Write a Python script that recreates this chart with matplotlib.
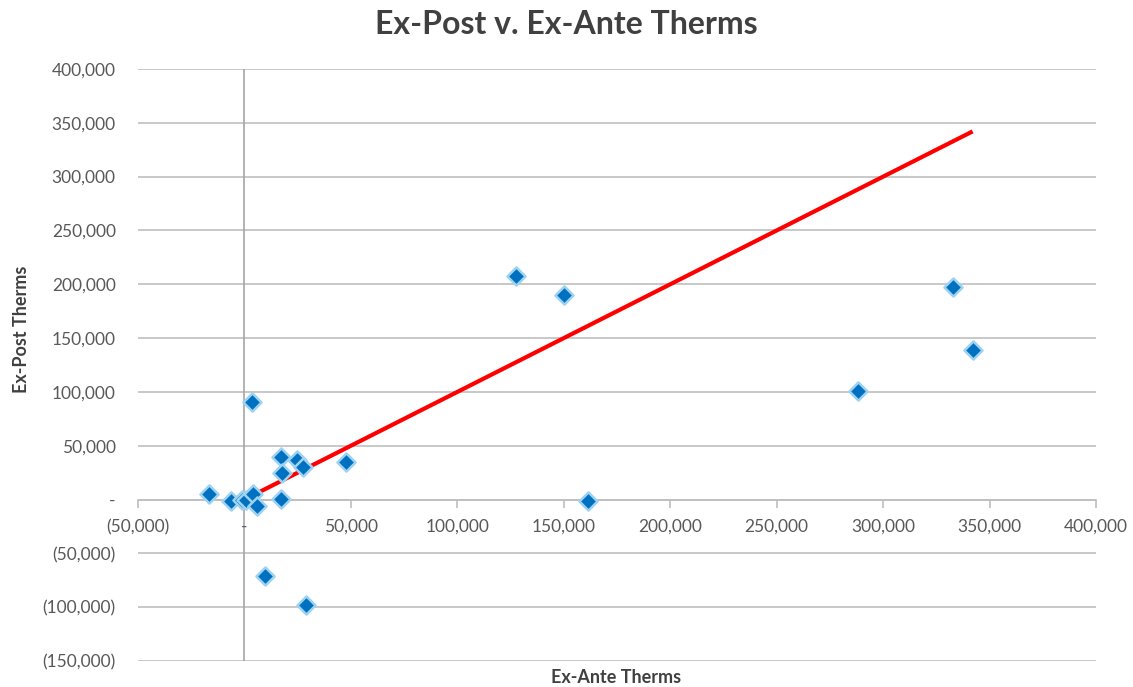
import matplotlib.pyplot as plt
from matplotlib.ticker import FuncFormatter

# ===================== DATA =====================
ex_ante = [-16800, -6200, -1100, 800, 4200, 5800, 3700, 17100, 17500, 17100,
           24900, 27600, 47600, 9800, 29100, 127600, 150200, 161500,
           333000, 342000, 288000]
ex_post = [5600, -1000, 0, 0, 5600, -6200, 90200, 39300, 24500, 600,
           37200, 30000, 35100, -71000, -98000, 207400, 189800, -900,
           197500, 138600, 100700]
line_x = [6000, 342000]
line_y = [6000, 342000]

x_ticks = list(range(-50000, 400001, 50000))
y_ticks = list(range(-150000, 400001, 50000))

# ===================== STYLE =====================
plt.rcParams['font.family'] = ['Lato', 'DejaVu Sans']
grid_c = '#BFBFBF'
text_c = '#595959'


def acct(v, pos=None):
    if v == 0:
        return '-'
    if v < 0:
        return f"({abs(v):,.0f})"
    return f"{v:,.0f}"


fig = plt.figure(figsize=(11.33, 6.87), dpi=100)
ax = fig.add_axes([0.1218, 0.0378, 0.8456, 0.8618])

ax.set_xlim(-50000, 400000)
ax.set_ylim(-150000, 400000)

for y in y_ticks:
    ax.axhline(y, color=grid_c, lw=1.2, zorder=0)
ax.axvline(0, color='#A6A6A6', lw=1.2, zorder=0)

ax.plot(line_x, line_y, color='#FF0000', lw=3, zorder=2, solid_capstyle='butt')
ax.scatter(ex_ante, ex_post, marker='D', s=85, color='#0070C0',
           edgecolor='#9DD3F0', linewidth=1.8, zorder=3)

for s in ['top', 'right', 'left']:
    ax.spines[s].set_visible(False)
ax.spines['bottom'].set_position(('data', 0))
ax.spines['bottom'].set_color(grid_c)
ax.spines['bottom'].set_linewidth(1.2)

ax.set_xticks(x_ticks)
ax.set_yticks(y_ticks)
ax.xaxis.set_major_formatter(FuncFormatter(acct))
ax.yaxis.set_major_formatter(FuncFormatter(acct))
ax.tick_params(axis='x', colors=grid_c, labelcolor=text_c, labelsize=12.5,
               length=6, width=1.2, pad=8)
ax.tick_params(axis='y', length=0, labelcolor=text_c, labelsize=12.5, pad=16)

fig.text(0.5, 0.965, 'Ex-Post v. Ex-Ante Therms', ha='center', va='center',
         fontsize=23, fontweight='bold', color='#404040')
fig.text(0.544, 0.014, 'Ex-Ante Therms', ha='center', va='center',
         fontsize=13, fontweight='bold', color='#404040')
fig.text(0.019, 0.52, 'Ex-Post Therms', ha='center', va='center', rotation=90,
         fontsize=13, fontweight='bold', color='#404040')

fig.savefig('out.png', dpi=100)
